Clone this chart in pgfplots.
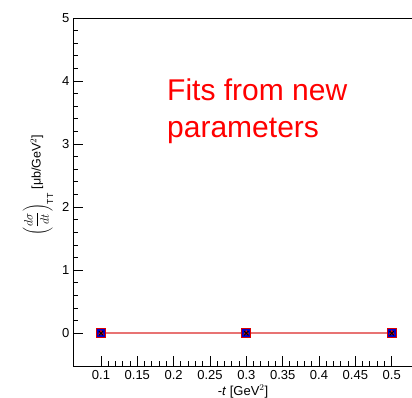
\documentclass[border=0pt]{standalone}
\usepackage{fontspec}
\setmainfont{Liberation Sans}
\usepackage{pgfplots}
\pgfplotsset{compat=1.18}
\definecolor{linered}{RGB}{232,115,115}
\begin{document}
\begin{tikzpicture}[x=1pt,y=1pt]
\path[use as bounding box] (0,0) rectangle (412,397);
\begin{axis}[
  at={(73pt,31pt)}, anchor=south west,
  scale only axis, width=341pt, height=348pt,
  xmin=0.0615, xmax=0.5307, ymin=-0.52, ymax=5,
  xtick={0.1,0.15,0.2,0.25,0.3,0.35,0.4,0.45,0.5},
  xticklabels={0.1,0.15,0.2,0.25,0.3,0.35,0.4,0.45,0.5},
  ytick={0,1,2,3,4,5},
  yticklabels={0,1,2,3,4,5},
  minor x tick num=4, minor y tick num=4,
  xtick pos=bottom, ytick pos=left, tick align=inside,
  major tick length=10pt, minor tick length=5pt,
  every tick/.style={black, line width=0.9pt},
  axis line style={line width=1pt},
  tick label style={font=\fontsize{13}{15}\selectfont},
  xticklabel style={yshift=-1pt},
  /pgf/number format/assume math mode=true,
  clip=false,
]
\addplot[linered, line width=2.2pt] coordinates {(0.1,0) (0.3,0) (0.5,0)};
\addplot[only marks, mark=square*, mark size=4.5pt, mark options={fill=blue!80!black, draw=red!85!black, line width=1pt}] coordinates {(0.1,0) (0.3,0) (0.5,0)};
\addplot[only marks, mark=triangle*, mark size=3pt, mark options={fill=red!90!black, draw=red!90!black}] coordinates {(0.1,0) (0.3,0) (0.5,0)};
\addplot[only marks, mark=x, mark size=3pt, mark options={draw=black, line width=0.9pt}] coordinates {(0.1,0) (0.3,0) (0.5,0)};
\node[anchor=base west, text=red, font=\fontsize{30}{36}\selectfont, inner sep=0pt] at (rel axis cs:0.2757,0.764) {Fits from new};
\node[anchor=base west, text=red, font=\fontsize{30}{36}\selectfont, inner sep=0pt] at (rel axis cs:0.2757,0.658) {parameters};
\node[rotate=90, font=\fontsize{12.5}{14}\selectfont] at (rel axis cs:-0.103,0.52) {$\left(\displaystyle\frac{d\sigma}{dt}\right)_{\mathrm{TT}}$ [μb/GeV$^{2}$]};
\node[font=\fontsize{13}{15}\selectfont] at (rel axis cs:0.4985,-0.073) {-\textit{t} [GeV$^{2}$]};
\end{axis}
\end{tikzpicture}
\end{document}
